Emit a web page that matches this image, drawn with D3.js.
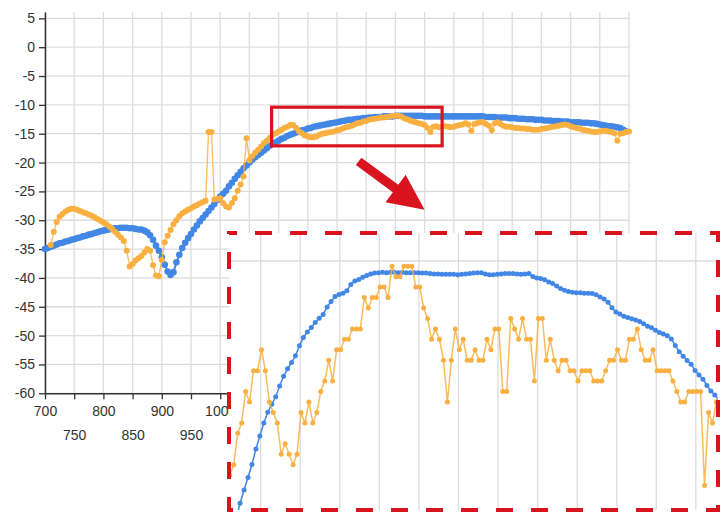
<!DOCTYPE html>
<html>
<head>
<meta charset="utf-8">
<script src="https://cdn.jsdelivr.net/npm/d3@7"></script>
<style>
  body { margin: 0; background: #fff; }
  svg { display: block; }
  text { font-family: "Liberation Sans", Arial, sans-serif; }
</style>
</head>
<body>
<svg id="chart" width="723" height="516"></svg>
<script>
// ---- Full-range spectra (dB), sampled every 5 nm ----
const sampleStep = 5;
const referenceStart = 700;
const referenceValues = [
  -35.0,-34.8,-34.6,-34.4,-34.2,-34.0,-33.9,-33.7,-33.6,-33.4,
  -33.3,-33.1,-33.0,-32.8,-32.7,-32.5,-32.4,-32.2,-32.1,-31.9,
  -31.8,-31.7,-31.6,-31.5,-31.4,-31.4,-31.3,-31.3,-31.3,-31.4,
  -31.4,-31.5,-31.6,-31.6,-31.8,-32.1,-32.6,-33.4,-34.4,-35.3,
  -36.4,-37.7,-38.9,-39.5,-39.0,-37.3,-36.0,-34.8,-33.9,-33.1,
  -32.4,-31.6,-30.9,-30.2,-29.6,-29.0,-28.4,-27.8,-27.2,-26.5,
  -25.9,-25.4,-24.9,-24.1,-23.5,-22.8,-22.2,-21.6,-21.0,-20.5,
  -20.0,-19.5,-19.1,-18.7,-18.3,-17.9,-17.5,-17.1,-16.8,-16.5,
  -16.2,-15.9,-15.7,-15.4,-15.2,-15.0,-14.8,-14.6,-14.4,-14.3,
  -14.1,-14.0,-13.8,-13.7,-13.6,-13.5,-13.4,-13.3,-13.2,-13.1,
  -13.0,-12.9,-12.8,-12.7,-12.6,-12.6,-12.5,-12.4,-12.4,-12.3,
  -12.3,-12.2,-12.2,-12.1,-12.1,-12.1,-12.0,-12.0,-12.0,-12.0,
  -11.9,-11.9,-11.9,-11.9,-11.9,-11.9,-11.9,-11.9,-11.9,-11.9,
  -12.0,-12.0,-12.0,-12.0,-12.0,-12.0,-12.0,-12.0,-12.0,-12.0,
  -12.0,-12.0,-12.0,-12.0,-12.0,-12.0,-12.0,-12.0,-12.0,-12.0,
  -12.0,-12.1,-12.1,-12.1,-12.1,-12.2,-12.2,-12.2,-12.2,-12.3,
  -12.3,-12.3,-12.4,-12.4,-12.4,-12.5,-12.5,-12.5,-12.6,-12.6,
  -12.6,-12.7,-12.7,-12.7,-12.8,-12.8,-12.8,-12.9,-12.9,-12.9,
  -13.0,-13.0,-13.0,-13.0,-13.1,-13.1,-13.1,-13.2,-13.2,-13.3,
  -13.4,-13.5,-13.6,-13.7,-13.7,-13.8,-13.9,-14.0,-14.3,-14.6
];
const measuredStart = 710;
const measuredValues = [
  -34.3,-32.0,-30.3,-29.4,-28.9,-28.5,-28.2,-28.0,
  -28.0,-28.2,-28.4,-28.6,-28.8,-29.0,-29.2,-29.5,-29.8,-30.1,
  -30.4,-30.7,-31.1,-31.5,-32.0,-32.5,-33.0,-33.6,-35.3,-38.0,
  -37.6,-37.0,-36.6,-36.2,-35.6,-35.0,-35.3,-37.8,-39.6,-39.7,
  -36.9,-33.8,-32.7,-31.7,-30.7,-30.0,-29.3,-28.8,-28.5,-28.2,
  -27.9,-27.6,-27.4,-27.1,-26.9,-26.6,-14.7,-14.7,-26.4,-26.3,
  -26.2,-27.0,-27.6,-27.8,-27.0,-26.2,-24.9,-23.8,-22.4,-15.8,
  -19.6,-18.9,-18.3,-17.8,-17.2,-16.6,-16.2,-15.7,-15.2,-14.9,
  -14.6,-14.3,-14.0,-13.8,-13.5,-13.5,-14.0,-14.6,-14.9,-15.3,
  -15.5,-15.6,-15.6,-15.5,-15.2,-15.0,-14.9,-14.8,-14.7,-14.6,
  -14.4,-14.3,-14.1,-13.9,-13.8,-13.6,-13.4,-13.2,-13.1,-12.9,
  -12.8,-12.6,-12.5,-12.4,-12.3,-12.2,-12.2,-12.1,-12.0,-11.9,
  -11.9,-11.9,-12.0,-12.3,-12.5,-12.7,-12.9,-13.0,-13.2,-13.3,
  -13.5,-14.0,-14.7,-13.8,-13.7,-13.9,-13.8,-13.7,-13.8,-13.9,
  -13.8,-13.6,-13.5,-13.4,-13.2,-13.4,-14.5,-13.3,-13.2,-13.0,
  -13.0,-13.3,-13.6,-14.4,-13.2,-13.0,-13.3,-13.6,-13.8,-13.8,
  -13.9,-14.0,-14.0,-14.1,-14.1,-14.2,-14.2,-14.3,-14.3,-14.3,
  -14.2,-14.1,-14.0,-13.9,-13.8,-13.7,-13.6,-13.5,-13.4,-13.5,
  -13.7,-13.9,-14.0,-14.1,-14.3,-14.4,-14.5,-14.6,-14.7,-14.7,
  -14.6,-14.5,-14.5,-14.6,-14.7,-14.9,-16.2,-15.0,-14.9,-14.7,
  -14.6
];

// ---- Detail scan of the boxed window, sampled every 2.5 nm ----
const detailStep = 2.5;
const detailReferenceStart = 1084.5;
const detailReferenceValues = [
  -18.15,
  -17.80,-17.48,-17.18,-16.87,-16.50,-16.19,-15.88,-15.62,-15.43,-15.25,
  -14.99,-14.76,-14.58,-14.43,-14.27,-14.03,-13.83,-13.70,-13.59,-13.47,
  -13.37,-13.28,-13.10,-12.97,-12.85,-12.80,-12.77,-12.71,-12.56,-12.48,
  -12.44,-12.39,-12.35,-12.31,-12.29,-12.28,-12.27,-12.28,-12.27,-12.27,
  -12.28,-12.27,-12.28,-12.28,-12.28,-12.28,-12.29,-12.29,-12.30,-12.31,
  -12.31,-12.32,-12.32,-12.32,-12.32,-12.33,-12.32,-12.31,-12.30,-12.29,
  -12.28,-12.28,-12.31,-12.33,-12.33,-12.32,-12.31,-12.30,-12.30,-12.30,
  -12.31,-12.32,-12.31,-12.30,-12.37,-12.41,-12.42,-12.45,-12.50,-12.54,
  -12.60,-12.66,-12.70,-12.73,-12.75,-12.76,-12.76,-12.77,-12.77,-12.78,
  -12.81,-12.86,-12.91,-12.99,-13.12,-13.22,-13.27,-13.32,-13.35,-13.38,
  -13.41,-13.45,-13.50,-13.56,-13.60,-13.66,-13.71,-13.75,-13.79,-13.87,
  -14.02,-14.17,-14.28,-14.38,-14.47,-14.62,-14.73,-14.83,-14.98,-15.11,
  -15.21,-15.33
];
const detailMeasuredStart = 1080.5;
const detailMeasuredValues = [
  -17.125,-16.875,-16.125,-15.875,-15.125,-15.375,-14.625,-14.625,-14.125,-14.625,
  -15.375,-15.625,-15.875,-16.625,-16.375,-16.625,-16.875,-16.625,-15.625,-15.875,
  -15.375,-15.875,-15.625,-15.125,-14.875,-14.375,-14.875,-14.125,-14.125,-13.875,
  -13.875,-13.625,-13.625,-13.625,-12.875,-13.125,-12.875,-12.875,-12.625,-12.625,
  -12.875,-12.125,-12.375,-12.375,-12.125,-12.125,-12.125,-12.625,-12.625,-13.125,
  -13.375,-13.875,-13.625,-13.875,-14.375,-15.375,-14.375,-13.625,-14.125,-13.875,
  -14.375,-14.375,-14.125,-14.375,-14.375,-13.875,-14.125,-13.625,-13.625,-15.125,
  -15.125,-13.375,-13.625,-13.875,-13.375,-13.875,-13.875,-14.875,-13.375,-13.375,
  -14.375,-13.875,-14.375,-14.625,-14.375,-14.375,-14.625,-14.625,-14.875,-14.625,
  -14.625,-14.625,-14.875,-14.875,-14.875,-14.625,-14.375,-14.375,-14.125,-14.375,
  -14.375,-13.875,-13.875,-13.625,-14.125,-14.375,-14.375,-14.125,-14.625,-14.625,
  -14.625,-14.625,-14.875,-15.125,-15.375,-15.375,-15.125,-15.125,-15.125,-15.125,
  -17.375,-15.625,-15.875,-15.375,-15.125
];

// ---- Axis ticks and annotation settings ----
const xTickValues = [700,750,800,850,900,950,1000,1050,1100,1150,1200,1250,1300,1350,1400,1450,1500,1550,1600,1650,1700];
const yTickValues = [5,0,-5,-10,-15,-20,-25,-30,-35,-40,-45,-50,-55,-60];
const detailGridX = [1100,1125,1150,1175,1200,1225,1250,1275,1300,1325,1350,1375];
const detailGridY = [-12];
const zoomWindow = { x0: 1088, x1: 1380, yLow: -17.1, yHigh: -10.4 };
const arrowFrom = [1237, -19.8];
const arrowTo = [1350, -28.2];

const BLUE = "#4287e6";
const ORANGE = "#f9b040";
const RED = "#d9141f";
const GRID = "#dcdcdc";
const INK = "#333";

const toPoints = (start, step, values) => values.map((v, i) => ({ x: start + i * step, y: v }));
const reference = toPoints(referenceStart, sampleStep, referenceValues);
const measured = toPoints(measuredStart, sampleStep, measuredValues);
const detailReference = toPoints(detailReferenceStart, detailStep, detailReferenceValues);
const detailMeasured = toPoints(detailMeasuredStart, detailStep, detailMeasuredValues);

const svg = d3.select("#chart");

// ---- Main chart ----
const x = d3.scaleLinear().domain([700, 1700]).range([45, 629]);
const y = d3.scaleLinear().domain([-60, 6.1]).range([393.3, 12]);

const grid = svg.append("g").attr("stroke", GRID).attr("stroke-width", 1.3);
grid.selectAll(".vx").data(xTickValues).join("line")
  .attr("x1", d => x(d)).attr("x2", d => x(d))
  .attr("y1", y.range()[1]).attr("y2", y.range()[0]);
grid.selectAll(".hy").data(yTickValues).join("line")
  .attr("x1", x.range()[0]).attr("x2", x.range()[1])
  .attr("y1", d => y(d)).attr("y2", d => y(d));

const plainNumber = d => String(d);
const yAxis = svg.append("g")
  .attr("transform", `translate(${x.range()[0]},0)`)
  .call(d3.axisLeft(y).tickValues(yTickValues).tickSize(6).tickSizeOuter(0).tickPadding(4).tickFormat(plainNumber));
const xAxis = svg.append("g")
  .attr("transform", `translate(0,${y(-60)})`)
  .call(d3.axisBottom(x).tickValues(xTickValues).tickSize(6).tickSizeOuter(0).tickPadding(7).tickFormat(plainNumber));
xAxis.selectAll(".tick text").attr("y", (d, i) => i % 2 ? 37 : 13);
[yAxis, xAxis].forEach(a => {
  a.select(".domain").attr("stroke", INK).attr("stroke-width", 1.5);
  a.selectAll(".tick line").attr("stroke", INK).attr("stroke-width", 1.3);
  a.selectAll(".tick text").attr("fill", INK).style("font-size", "14px").style("font-family", "'Liberation Sans', Arial, sans-serif");
});

function drawSeries(g, data, xs, ys, color, lineWidth, radius, lineOpacity) {
  const line = d3.line().x(d => xs(d.x)).y(d => ys(d.y));
  g.append("path").datum(data)
    .attr("fill", "none").attr("stroke", color)
    .attr("stroke-width", lineWidth).attr("stroke-opacity", lineOpacity)
    .attr("d", line);
  g.append("g").attr("fill", color).selectAll("circle").data(data).join("circle")
    .attr("cx", d => xs(d.x)).attr("cy", d => ys(d.y)).attr("r", radius);
}

const mainSeries = svg.append("g");
drawSeries(mainSeries, reference, x, y, BLUE, 2, 3.3, 1);
drawSeries(mainSeries, measured, x, y, ORANGE, 1.3, 3, 0.85);

// highlighted window
svg.append("rect")
  .attr("x", x(zoomWindow.x0)).attr("y", y(zoomWindow.yHigh))
  .attr("width", x(zoomWindow.x1) - x(zoomWindow.x0))
  .attr("height", y(zoomWindow.yLow) - y(zoomWindow.yHigh))
  .attr("fill", "none").attr("stroke", RED).attr("stroke-width", 3.2);

// arrow pointing to the detail panel
(function drawArrow() {
  const [sx, sy] = [x(arrowFrom[0]), y(arrowFrom[1])];
  const [tx, ty] = [x(arrowTo[0]), y(arrowTo[1])];
  const len = Math.hypot(tx - sx, ty - sy);
  const ux = (tx - sx) / len, uy = (ty - sy) / len;
  const nx = -uy, ny = ux;
  const shaftHalf = 4.6, headLen = 36, headHalf = 17;
  const bx = tx - ux * headLen, by = ty - uy * headLen;
  const pts = [
    [sx + nx * shaftHalf, sy + ny * shaftHalf],
    [bx + nx * shaftHalf, by + ny * shaftHalf],
    [bx + nx * headHalf, by + ny * headHalf],
    [tx, ty],
    [bx - nx * headHalf, by - ny * headHalf],
    [bx - nx * shaftHalf, by - ny * shaftHalf],
    [sx - nx * shaftHalf, sy - ny * shaftHalf]
  ];
  svg.append("polygon").attr("points", pts.map(p => p.join(",")).join(" ")).attr("fill", RED);
})();

// ---- Detail panel ----
const panel = { left: 229, top: 233, right: 718, bottom: 510 };
const ix = d3.scaleLinear().domain([1080, 1389]).range([panel.left, panel.right]);
const iy = d3.scaleLinear().domain([-17.96, -11.33]).range([panel.bottom, panel.top]);

svg.append("defs").append("clipPath").attr("id", "panelClip")
  .append("rect").attr("x", panel.left).attr("y", panel.top)
  .attr("width", panel.right - panel.left).attr("height", panel.bottom - panel.top);

svg.append("rect")
  .attr("x", panel.left).attr("y", panel.top)
  .attr("width", panel.right - panel.left).attr("height", panel.bottom - panel.top)
  .attr("fill", "#fff");

const detail = svg.append("g").attr("clip-path", "url(#panelClip)");
const dgrid = detail.append("g").attr("stroke", GRID).attr("stroke-width", 1.3);
dgrid.selectAll(".dv").data(detailGridX).join("line")
  .attr("x1", d => ix(d)).attr("x2", d => ix(d))
  .attr("y1", panel.top).attr("y2", panel.bottom);
dgrid.selectAll(".dh").data(detailGridY).join("line")
  .attr("x1", panel.left).attr("x2", panel.right)
  .attr("y1", d => iy(d)).attr("y2", d => iy(d));

drawSeries(detail, detailReference, ix, iy, BLUE, 1.5, 2.5, 1);
drawSeries(detail, detailMeasured, ix, iy, ORANGE, 1.5, 2.5, 0.85);

svg.append("rect")
  .attr("x", panel.left).attr("y", panel.top)
  .attr("width", panel.right - panel.left).attr("height", panel.bottom - panel.top)
  .attr("fill", "none").attr("stroke", RED).attr("stroke-width", 4)
  .attr("stroke-dasharray", "17 18").attr("stroke-dashoffset", 9);
</script>
</body>
</html>
